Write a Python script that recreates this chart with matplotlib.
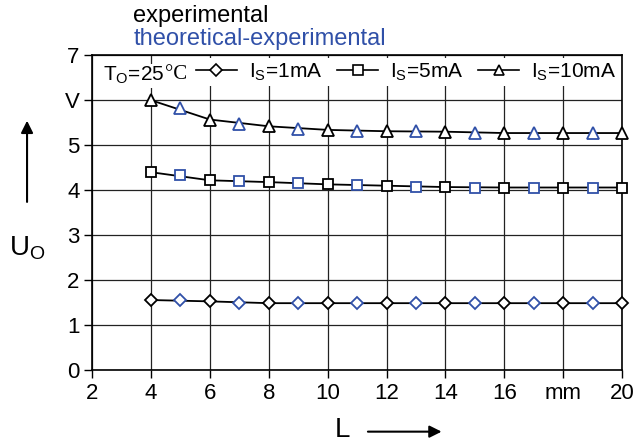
import numpy as np
import matplotlib.pyplot as plt
from matplotlib.lines import Line2D

plt.rcParams['font.family'] = ['Liberation Sans', 'DejaVu Sans']
plt.rcParams['mathtext.default'] = 'regular'

# experimental (even L) and theoretical-experimental (odd L)
L_exp = [4, 6, 8, 10, 12, 14, 16, 18, 20]
L_theo = [5, 7, 9, 11, 13, 15, 17, 19]

u10_exp = [6.00, 5.57, 5.42, 5.34, 5.31, 5.30, 5.27, 5.27, 5.27]
u10_theo = [5.82, 5.48, 5.37, 5.32, 5.31, 5.28, 5.27, 5.27]
u5_exp = [4.40, 4.22, 4.18, 4.13, 4.10, 4.07, 4.06, 4.06, 4.06]
u5_theo = [4.33, 4.20, 4.16, 4.11, 4.08, 4.06, 4.06, 4.06]
u1_exp = [1.56, 1.53, 1.49, 1.49, 1.49, 1.49, 1.49, 1.49, 1.49]
u1_theo = [1.55, 1.50, 1.49, 1.49, 1.49, 1.49, 1.49, 1.49]

x_ticks = [2, 4, 6, 8, 10, 12, 14, 16, 18, 20]
x_labels = ['2', '4', '6', '8', '10', '12', '14', '16', 'mm', '20']
y_ticks = [0, 1, 2, 3, 4, 5, 6, 7]
y_labels = ['0', '1', '2', '3', '4', '5', 'V', '7']

BLUE = '#3050a8'

fig = plt.figure(figsize=(6.44, 4.45), dpi=100)
ax = fig.add_axes([0.143, 0.168, 0.823, 0.708])

series = [(u1_exp, u1_theo, 'D', 6.3), (u5_exp, u5_theo, 's', 7.8), (u10_exp, u10_theo, '^', 8.5)]
for exp, theo, mk, ms in series:
    ax.plot(L_exp, exp, color='black', lw=1.3, marker=mk, ms=ms, mfc='white',
            mec='black', mew=1.3, zorder=4, clip_on=False)
    ax.plot(L_theo, theo, ls='none', marker=mk, ms=ms, mfc='white',
            mec=BLUE, mew=1.3, zorder=4, clip_on=False)

ax.set_xlim(2, 20)
ax.set_ylim(0, 7)
ax.set_xticks(x_ticks)
ax.set_xticklabels(x_labels)
ax.set_yticks(y_ticks)
ax.set_yticklabels(y_labels)
ax.tick_params(direction='out', length=6, width=1, labelsize=16, colors='black', pad=3)
ax.grid(True, color='#222222', lw=0.9)
ax.set_axisbelow(True)
for s in ax.spines.values():
    s.set_linewidth(1.2)

# legend row
handles = [Line2D([], [], color='black', lw=1.2, marker=m, ms=s, mfc='white', mec='black', mew=1.2)
           for m, s in [('D', 6), ('s', 6.5), ('^', 7)]]
labels = ['I$_S$=1mA', 'I$_S$=5mA', 'I$_S$=10mA']
leg = ax.legend(handles, labels, ncol=3, loc='upper right', bbox_to_anchor=(1.0, 1.0),
                frameon=True, fontsize=15, handlelength=2.0, handletextpad=0.55,
                columnspacing=0.7, borderpad=0.15, borderaxespad=0.15)
leg.get_frame().set_facecolor('white')
leg.get_frame().set_edgecolor('none')
leg.get_frame().set_alpha(1)
t1 = ax.text(0.02, 0.935, 'T$_O$=25', transform=ax.transAxes, fontsize=15, va='center',
             ha='left', bbox=dict(fc='white', ec='none', pad=1), zorder=6)
ax.annotate('°C', xy=(1, 0.5), xycoords=t1, xytext=(0.5, 0.5), textcoords='offset points',
            fontsize=15, va='center', ha='left', family='Liberation Serif', zorder=6,
            bbox=dict(fc='white', ec='none', pad=1))

# titles
fig.text(0.207, 0.964, 'experimental', fontsize=17, color='black', va='center')
fig.text(0.207, 0.913, 'theoretical-experimental', fontsize=17, color=BLUE, va='center')

# axis labels with arrows
fig.text(0.042, 0.443, 'U$_O$', fontsize=20, ha='center', va='center')
plt.annotate('', xy=(0.042, 0.735), xytext=(0.042, 0.54), xycoords='figure fraction',
             arrowprops=dict(arrowstyle='-|>', color='black', lw=1.5, mutation_scale=18))
fig.text(0.532, 0.033, 'L', fontsize=20, ha='center', va='center')
plt.annotate('', xy=(0.69, 0.03), xytext=(0.567, 0.03), xycoords='figure fraction',
             arrowprops=dict(arrowstyle='-|>', color='black', lw=1.5, mutation_scale=18))

plt.savefig('out.png', dpi=100)
